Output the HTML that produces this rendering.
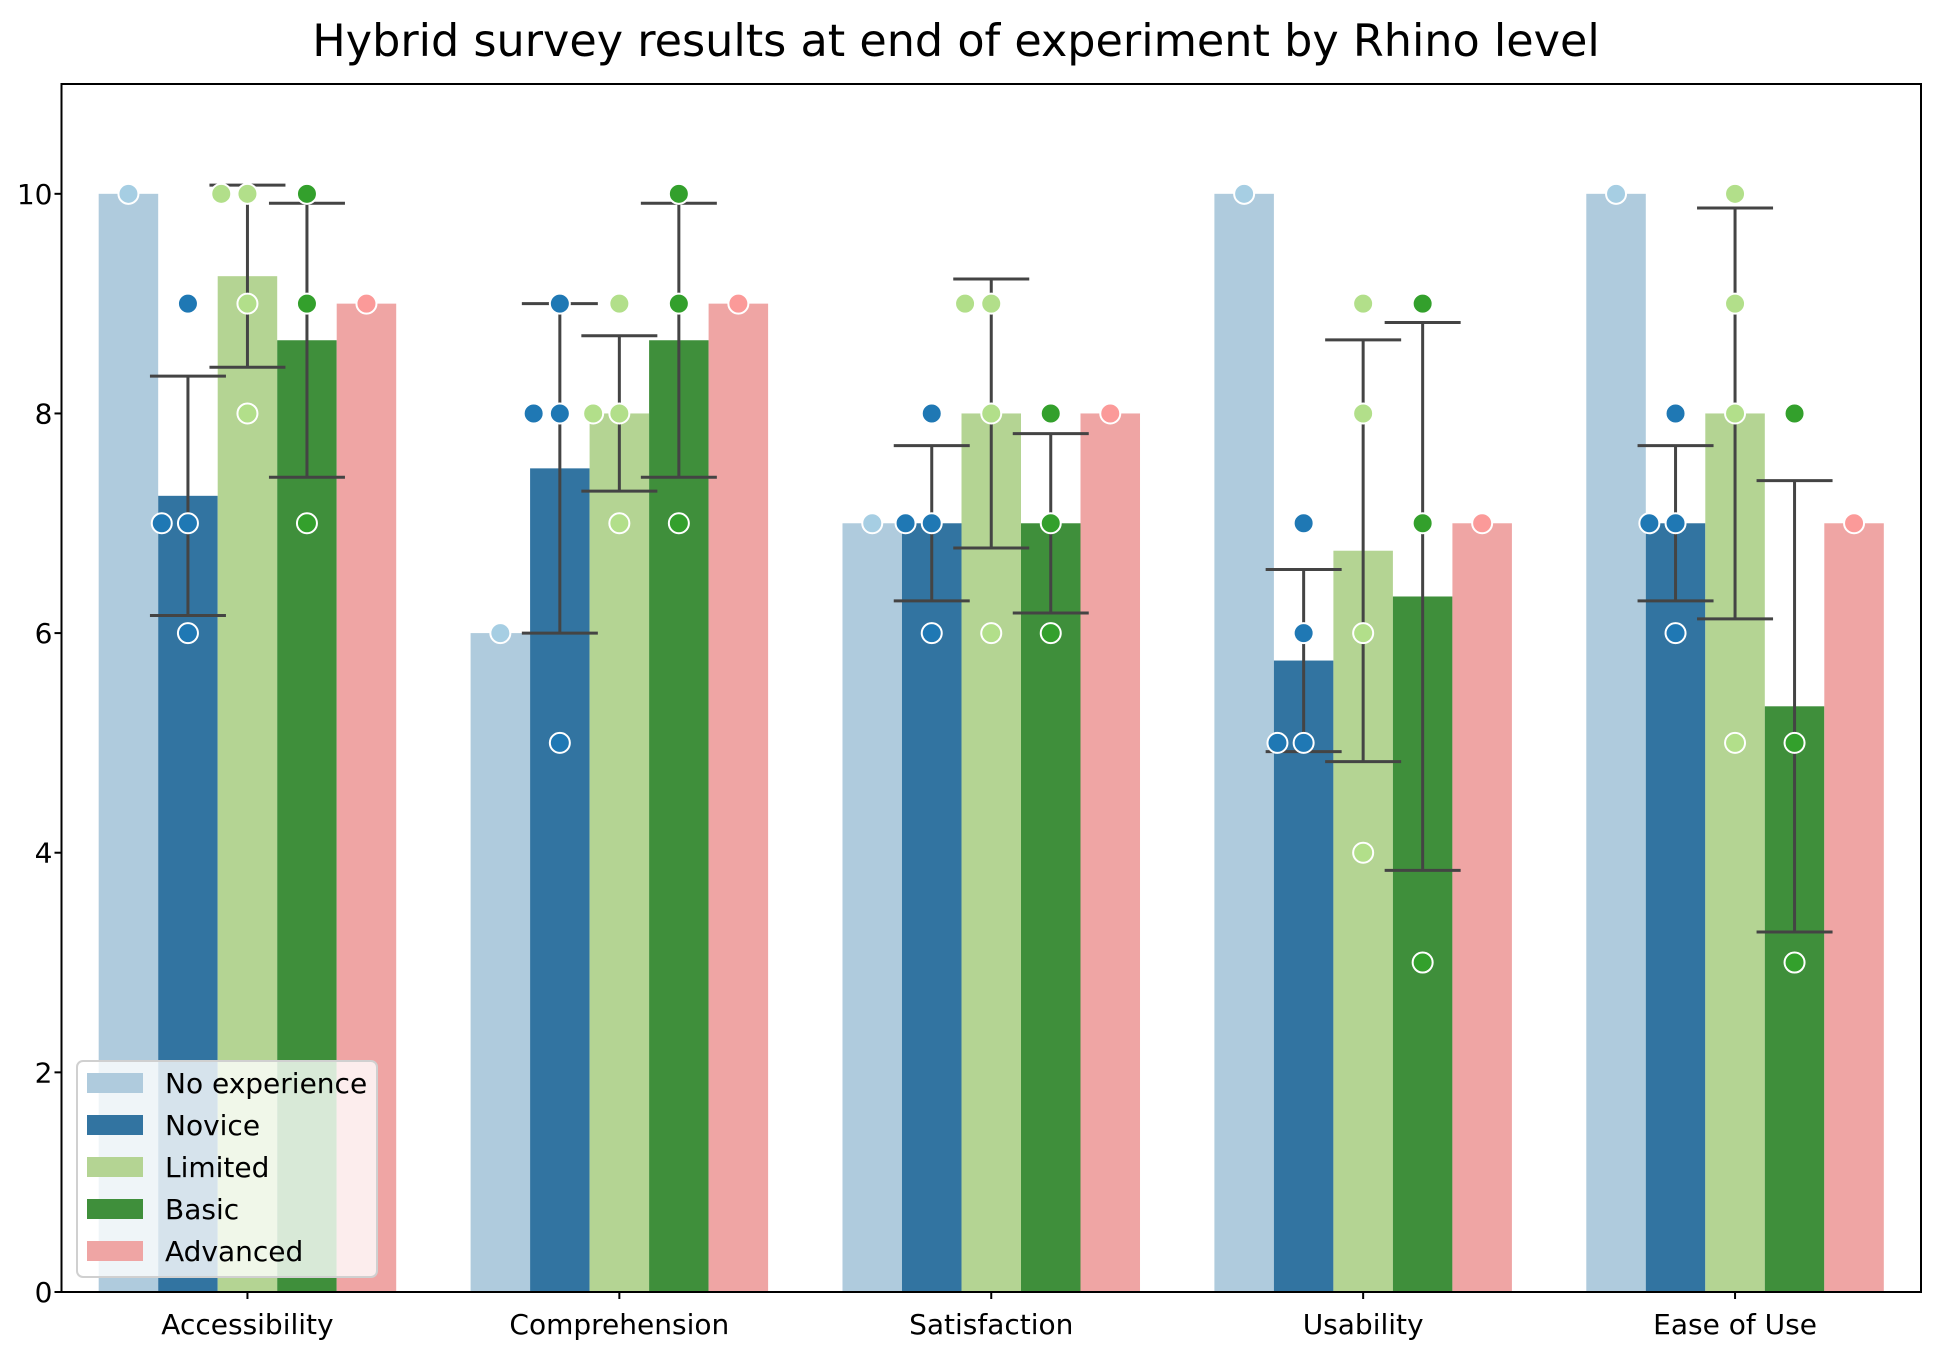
<!DOCTYPE html>
<html><head><meta charset="utf-8">
<style>
html,body{margin:0;padding:0;background:#fff;}
svg{display:block;font-family:"DejaVu Sans","Liberation Sans",sans-serif;}
</style></head>
<body>
<svg id="chart" width="1942" height="1359" viewBox="0 0 1942 1359" xmlns="http://www.w3.org/2000/svg">
<text x="956" y="56" font-size="44.5" text-anchor="middle" fill="#000">Hybrid survey results at end of experiment by Rhino level</text>
<g id="plot"></g>
</svg>
<script>
const categories = ["Accessibility","Comprehension","Satisfaction","Usability","Ease of Use"];
const levels = ["No experience","Novice","Limited","Basic","Advanced"];
const barColors = ["#afcbdd","#3274a1","#b4d493","#3f8f3b","#efa5a4"];
const dotColors = ["#a6cee3","#1f78b4","#b2df8a","#33a02c","#fb9a99"];
// individual responses per category, per level
const ptsNoExperience = [[10],[6],[7],[10],[10]];
const ptsNovice = [[9,7,7,6],[9,8,8,5],[8,7,7,6],[7,6,5,5],[8,7,7,6]];
const ptsLimited = [[10,10,9,8],[9,8,8,7],[9,9,8,6],[9,8,6,4],[10,9,8,5]];
const ptsBasic = [[10,9,7],[10,9,7],[8,7,6],[9,7,3],[8,5,3]];
const ptsAdvanced = [[9],[9],[8],[7],[7]];
const yTicks = [0,2,4,6,8,10];

const allPts = [ptsNoExperience, ptsNovice, ptsLimited, ptsBasic, ptsAdvanced];
const NS = "http://www.w3.org/2000/svg";
const svg = document.getElementById('plot');
const L = 61.5, R = 1921, T = 84, B = 1292;
const yMax = 11;
const xScale = v => L + (v + 0.5) / 5 * (R - L);
const yScale = v => B - v / yMax * (B - T);
const bw = 0.8 / 5 * (R - L) / 5;

function mk(tag, attrs, parent) {
  const e = document.createElementNS(NS, tag);
  for (const k in attrs) e.setAttribute(k, attrs[k]);
  (parent || svg).appendChild(e);
  return e;
}

const barsG = mk('g', {});
const errG = mk('g', {});
const dotsG = mk('g', {});

categories.forEach((cat, ci) => {
  levels.forEach((lv, li) => {
    const pts = allPts[li][ci];
    const mean = pts.reduce((a, b) => a + b, 0) / pts.length;
    const sd = Math.sqrt(pts.reduce((a, b) => a + (b - mean) ** 2, 0) / pts.length);
    const cx = xScale(ci) + (li - 2) * bw;
    const bar = mk('rect', {x: cx - bw / 2, y: yScale(mean), width: bw, height: yScale(0) - yScale(mean), fill: barColors[li]}, barsG);
    
    
    if (pts.length > 1) {
      const eg = mk('g', {stroke: '#444', 'stroke-width': 3}, errG);
      
      
      const y1 = yScale(mean - sd), y2 = yScale(mean + sd);
      mk('line', {x1: cx, x2: cx, y1: y1, y2: y2}, eg);
      mk('line', {x1: cx - 38, x2: cx + 38, y1: y1, y2: y1}, eg);
      mk('line', {x1: cx - 38, x2: cx + 38, y1: y2, y2: y2}, eg);
    }
    pts.forEach((v, pi) => {
      const remaining = pts.slice(pi + 1).filter(p => p === v).length;
      const off = remaining > 0 ? -0.44 * bw : 0;
      const d = mk('circle', {cx: cx + off, cy: yScale(v), r: 10, fill: dotColors[li], stroke: '#fff', 'stroke-width': 2}, dotsG);
      
      
    });
  });
});

// axes frame
const frame = mk('rect', {x: L, y: T, width: R - L, height: B - T, fill: 'none', stroke: '#000', 'stroke-width': 2});



yTicks.forEach(t => {
  const y = yScale(t);
  mk('line', {x1: L - 7, x2: L, y1: y, y2: y, stroke: '#000', 'stroke-width': 2});
  const tx = mk('text', {x: L - 9, y: y + 10, 'font-size': 28, 'text-anchor': 'end', fill: '#000'});
  tx.textContent = t;
  
  
});
categories.forEach((c, i) => {
  const x = xScale(i);
  mk('line', {x1: x, x2: x, y1: B, y2: B + 7, stroke: '#000', 'stroke-width': 2});
  const tx = mk('text', {x: x, y: B + 42, 'font-size': 28, 'text-anchor': 'middle', fill: '#000'});
  tx.textContent = c;
  
  
});

// legend
const lg = mk('g', {});


mk('rect', {x: 77, y: 1061, width: 300, height: 216, rx: 6, fill: 'rgba(255,255,255,0.8)', stroke: '#d0d0d0', 'stroke-width': 2}, lg);
levels.forEach((lv, i) => {
  const cy = 1083 + i * 42;
  const e = mk('g', {}, lg);
  
  
  mk('rect', {x: 87, y: cy - 10, width: 56, height: 20, fill: barColors[i]}, e);
  const t = mk('text', {x: 165, y: cy + 10, 'font-size': 28, fill: '#000'}, e);
  t.textContent = lv;
});
</script>
</body></html>
